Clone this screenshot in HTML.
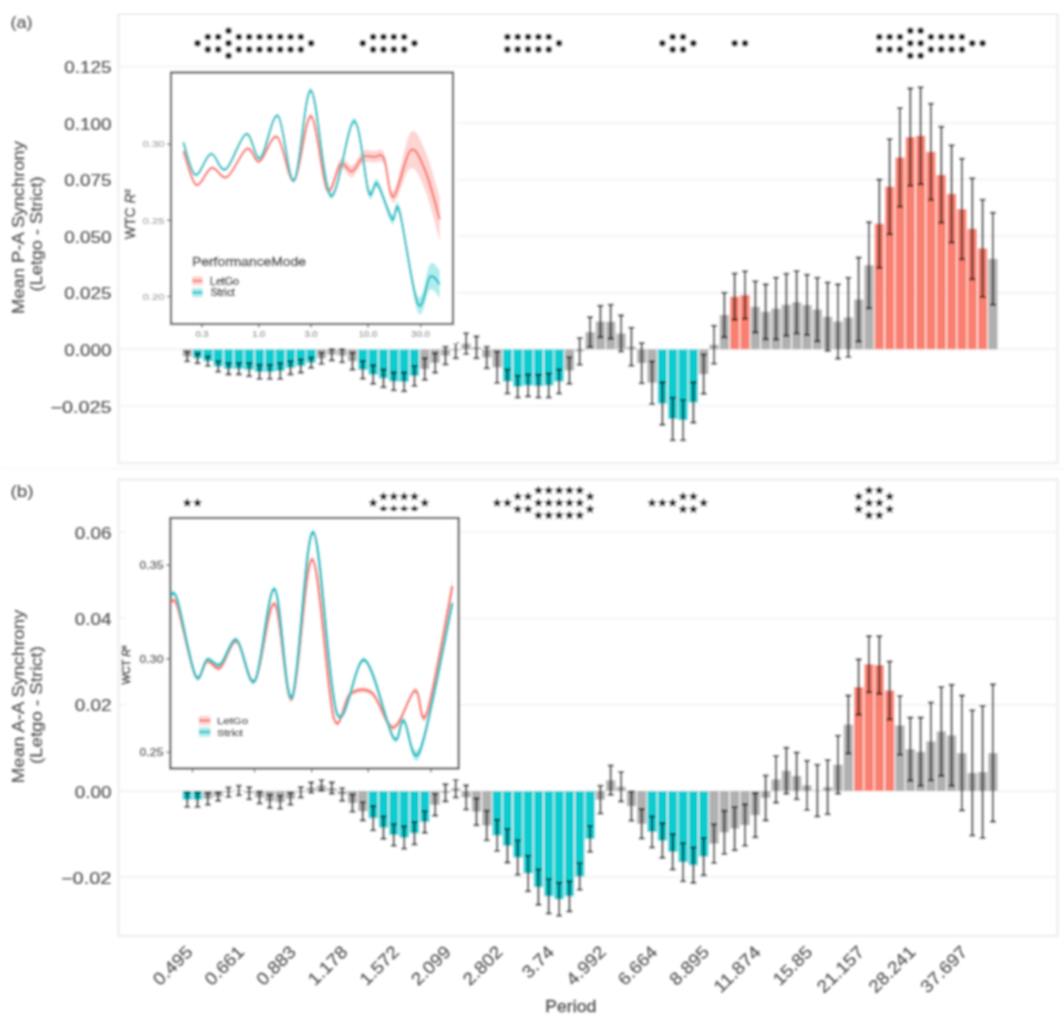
<!DOCTYPE html><html><head><meta charset="utf-8"><style>html,body{margin:0;padding:0;background:#fff;width:1064px;height:1032px;overflow:hidden}svg{display:block}</style></head><body><svg width="1064" height="1032" viewBox="0 0 1064 1032">
<defs><filter id="bl" x="0" y="0" width="1" height="1"><feGaussianBlur stdDeviation="0.9"/></filter></defs>
<rect width="1064" height="1032" fill="#fff"/>
<g filter="url(#bl)">
<text x="10.5" y="27.5" font-size="16" fill="#555" stroke="#555" stroke-width="0.15" font-family="Liberation Sans, sans-serif" textLength="22" lengthAdjust="spacingAndGlyphs">(a)</text>
<text x="10.5" y="496.5" font-size="16" fill="#555" stroke="#555" stroke-width="0.15" font-family="Liberation Sans, sans-serif" textLength="23" lengthAdjust="spacingAndGlyphs">(b)</text>
<line x1="0" x2="1064" y1="468.5" y2="468.5" stroke="#f6f6f6" stroke-width="1.5"/>
<rect x="118.5" y="13.6" width="939.0" height="449.4" fill="#fff" stroke="#efefef" stroke-width="2.5"/>
<line x1="120" x2="1056" y1="66.4" y2="66.4" stroke="#f0f0f0" stroke-width="1.4"/>
<text x="111.5" y="73.0" text-anchor="end" font-size="16.2" fill="#555" stroke="#555" stroke-width="0.2" font-family="Liberation Sans, sans-serif" textLength="47.2" lengthAdjust="spacingAndGlyphs">0.125</text>
<line x1="120" x2="1056" y1="123.0" y2="123.0" stroke="#f0f0f0" stroke-width="1.4"/>
<text x="111.5" y="129.6" text-anchor="end" font-size="16.2" fill="#555" stroke="#555" stroke-width="0.2" font-family="Liberation Sans, sans-serif" textLength="47.2" lengthAdjust="spacingAndGlyphs">0.100</text>
<line x1="120" x2="1056" y1="179.6" y2="179.6" stroke="#f0f0f0" stroke-width="1.4"/>
<text x="111.5" y="186.2" text-anchor="end" font-size="16.2" fill="#555" stroke="#555" stroke-width="0.2" font-family="Liberation Sans, sans-serif" textLength="47.2" lengthAdjust="spacingAndGlyphs">0.075</text>
<line x1="120" x2="1056" y1="236.2" y2="236.2" stroke="#f0f0f0" stroke-width="1.4"/>
<text x="111.5" y="242.8" text-anchor="end" font-size="16.2" fill="#555" stroke="#555" stroke-width="0.2" font-family="Liberation Sans, sans-serif" textLength="47.2" lengthAdjust="spacingAndGlyphs">0.050</text>
<line x1="120" x2="1056" y1="292.7" y2="292.7" stroke="#f0f0f0" stroke-width="1.4"/>
<text x="111.5" y="299.3" text-anchor="end" font-size="16.2" fill="#555" stroke="#555" stroke-width="0.2" font-family="Liberation Sans, sans-serif" textLength="47.2" lengthAdjust="spacingAndGlyphs">0.025</text>
<line x1="120" x2="1056" y1="349.3" y2="349.3" stroke="#f0f0f0" stroke-width="1.4"/>
<text x="111.5" y="355.9" text-anchor="end" font-size="16.2" fill="#555" stroke="#555" stroke-width="0.2" font-family="Liberation Sans, sans-serif" textLength="47.2" lengthAdjust="spacingAndGlyphs">0.000</text>
<line x1="120" x2="1056" y1="405.9" y2="405.9" stroke="#f0f0f0" stroke-width="1.4"/>
<text x="111.5" y="412.5" text-anchor="end" font-size="16.2" fill="#555" stroke="#555" stroke-width="0.2" font-family="Liberation Sans, sans-serif" textLength="61.1" lengthAdjust="spacingAndGlyphs">−0.025</text>
<rect x="182.60" y="349.30" width="9.2" height="7.24" fill="#b0b0b0"/>
<rect x="192.93" y="349.30" width="9.2" height="9.05" fill="#0BCCD0"/>
<rect x="203.26" y="349.30" width="9.2" height="11.99" fill="#0BCCD0"/>
<rect x="213.59" y="349.30" width="9.2" height="17.20" fill="#0BCCD0"/>
<rect x="223.92" y="349.30" width="9.2" height="19.46" fill="#0BCCD0"/>
<rect x="234.25" y="349.30" width="9.2" height="19.46" fill="#0BCCD0"/>
<rect x="244.58" y="349.30" width="9.2" height="20.37" fill="#0BCCD0"/>
<rect x="254.91" y="349.30" width="9.2" height="22.63" fill="#0BCCD0"/>
<rect x="265.24" y="349.30" width="9.2" height="22.63" fill="#0BCCD0"/>
<rect x="275.57" y="349.30" width="9.2" height="21.72" fill="#0BCCD0"/>
<rect x="285.90" y="349.30" width="9.2" height="18.56" fill="#0BCCD0"/>
<rect x="296.23" y="349.30" width="9.2" height="16.75" fill="#0BCCD0"/>
<rect x="306.56" y="349.30" width="9.2" height="13.35" fill="#0BCCD0"/>
<rect x="316.89" y="349.30" width="9.2" height="9.05" fill="#b0b0b0"/>
<rect x="327.22" y="349.30" width="9.2" height="5.43" fill="#b0b0b0"/>
<rect x="337.55" y="349.30" width="9.2" height="6.34" fill="#b0b0b0"/>
<rect x="347.88" y="349.30" width="9.2" height="11.99" fill="#b0b0b0"/>
<rect x="358.21" y="349.30" width="9.2" height="20.59" fill="#0BCCD0"/>
<rect x="368.54" y="349.30" width="9.2" height="25.35" fill="#0BCCD0"/>
<rect x="378.87" y="349.30" width="9.2" height="28.97" fill="#0BCCD0"/>
<rect x="389.20" y="349.30" width="9.2" height="32.13" fill="#0BCCD0"/>
<rect x="399.53" y="349.30" width="9.2" height="32.59" fill="#0BCCD0"/>
<rect x="409.86" y="349.30" width="9.2" height="26.70" fill="#0BCCD0"/>
<rect x="420.19" y="349.30" width="9.2" height="19.69" fill="#b0b0b0"/>
<rect x="430.52" y="349.30" width="9.2" height="13.58" fill="#b0b0b0"/>
<rect x="440.85" y="349.30" width="9.2" height="6.34" fill="#b0b0b0"/>
<rect x="451.18" y="349.30" width="9.2" height="1.13" fill="#b0b0b0"/>
<rect x="461.51" y="343.64" width="9.2" height="5.66" fill="#b0b0b0"/>
<rect x="471.84" y="347.26" width="9.2" height="2.04" fill="#b0b0b0"/>
<rect x="482.17" y="349.30" width="9.2" height="8.15" fill="#b0b0b0"/>
<rect x="492.50" y="349.30" width="9.2" height="18.10" fill="#b0b0b0"/>
<rect x="502.83" y="349.30" width="9.2" height="32.13" fill="#0BCCD0"/>
<rect x="513.16" y="349.30" width="9.2" height="37.34" fill="#0BCCD0"/>
<rect x="523.49" y="349.30" width="9.2" height="36.21" fill="#0BCCD0"/>
<rect x="533.82" y="349.30" width="9.2" height="36.89" fill="#0BCCD0"/>
<rect x="544.15" y="349.30" width="9.2" height="36.21" fill="#0BCCD0"/>
<rect x="554.48" y="349.30" width="9.2" height="32.13" fill="#0BCCD0"/>
<rect x="564.81" y="349.30" width="9.2" height="21.27" fill="#b0b0b0"/>
<rect x="575.14" y="349.30" width="9.2" height="2.04" fill="#b0b0b0"/>
<rect x="585.47" y="332.10" width="9.2" height="17.20" fill="#b0b0b0"/>
<rect x="595.80" y="321.47" width="9.2" height="27.83" fill="#b0b0b0"/>
<rect x="606.13" y="321.69" width="9.2" height="27.61" fill="#b0b0b0"/>
<rect x="616.46" y="333.46" width="9.2" height="15.84" fill="#b0b0b0"/>
<rect x="626.79" y="346.81" width="9.2" height="2.49" fill="#b0b0b0"/>
<rect x="637.12" y="349.30" width="9.2" height="13.80" fill="#b0b0b0"/>
<rect x="647.45" y="349.30" width="9.2" height="33.49" fill="#b0b0b0"/>
<rect x="657.78" y="349.30" width="9.2" height="54.31" fill="#0BCCD0"/>
<rect x="668.11" y="349.30" width="9.2" height="69.70" fill="#0BCCD0"/>
<rect x="678.44" y="349.30" width="9.2" height="70.83" fill="#0BCCD0"/>
<rect x="688.77" y="349.30" width="9.2" height="53.18" fill="#0BCCD0"/>
<rect x="699.10" y="349.30" width="9.2" height="24.89" fill="#b0b0b0"/>
<rect x="709.43" y="344.77" width="9.2" height="4.53" fill="#b0b0b0"/>
<rect x="719.76" y="314.90" width="9.2" height="34.40" fill="#b0b0b0"/>
<rect x="730.09" y="296.57" width="9.2" height="52.73" fill="#F98070"/>
<rect x="740.42" y="294.99" width="9.2" height="54.31" fill="#F98070"/>
<rect x="750.75" y="306.76" width="9.2" height="42.54" fill="#b0b0b0"/>
<rect x="761.08" y="311.73" width="9.2" height="37.57" fill="#b0b0b0"/>
<rect x="771.41" y="308.57" width="9.2" height="40.73" fill="#b0b0b0"/>
<rect x="781.74" y="304.72" width="9.2" height="44.58" fill="#b0b0b0"/>
<rect x="792.07" y="302.23" width="9.2" height="47.07" fill="#b0b0b0"/>
<rect x="802.40" y="304.95" width="9.2" height="44.35" fill="#b0b0b0"/>
<rect x="812.73" y="309.47" width="9.2" height="39.83" fill="#b0b0b0"/>
<rect x="823.06" y="316.71" width="9.2" height="32.59" fill="#b0b0b0"/>
<rect x="833.39" y="321.47" width="9.2" height="27.83" fill="#b0b0b0"/>
<rect x="843.72" y="317.39" width="9.2" height="31.91" fill="#b0b0b0"/>
<rect x="854.05" y="299.51" width="9.2" height="49.79" fill="#b0b0b0"/>
<rect x="864.38" y="265.12" width="9.2" height="84.18" fill="#b0b0b0"/>
<rect x="874.71" y="223.70" width="9.2" height="125.60" fill="#F98070"/>
<rect x="885.04" y="186.59" width="9.2" height="162.71" fill="#F98070"/>
<rect x="895.37" y="157.40" width="9.2" height="191.90" fill="#F98070"/>
<rect x="905.70" y="137.03" width="9.2" height="212.27" fill="#F98070"/>
<rect x="916.03" y="135.67" width="9.2" height="213.63" fill="#F98070"/>
<rect x="926.36" y="151.74" width="9.2" height="197.56" fill="#F98070"/>
<rect x="936.69" y="174.82" width="9.2" height="174.48" fill="#F98070"/>
<rect x="947.02" y="193.83" width="9.2" height="155.47" fill="#F98070"/>
<rect x="957.35" y="208.99" width="9.2" height="140.31" fill="#F98070"/>
<rect x="967.68" y="228.68" width="9.2" height="120.62" fill="#F98070"/>
<rect x="978.01" y="248.37" width="9.2" height="100.93" fill="#F98070"/>
<rect x="988.34" y="258.78" width="9.2" height="90.52" fill="#b0b0b0"/>
<path d="M184.30 351.79H190.10M187.20 351.79V361.29M184.30 361.29H190.10" stroke="rgba(0,0,0,0.7)" stroke-width="2.1" fill="none"/>
<path d="M194.63 353.60H200.43M197.53 353.60V363.10M194.63 363.10H200.43" stroke="rgba(0,0,0,0.7)" stroke-width="2.1" fill="none"/>
<path d="M204.96 356.54H210.76M207.86 356.54V366.05M204.96 366.05H210.76" stroke="rgba(0,0,0,0.7)" stroke-width="2.1" fill="none"/>
<path d="M215.29 361.29H221.09M218.19 361.29V371.70M215.29 371.70H221.09" stroke="rgba(0,0,0,0.7)" stroke-width="2.1" fill="none"/>
<path d="M225.62 363.10H231.42M228.52 363.10V374.42M225.62 374.42H231.42" stroke="rgba(0,0,0,0.7)" stroke-width="2.1" fill="none"/>
<path d="M235.95 363.10H241.75M238.85 363.10V374.42M235.95 374.42H241.75" stroke="rgba(0,0,0,0.7)" stroke-width="2.1" fill="none"/>
<path d="M246.28 363.10H252.08M249.18 363.10V376.23M246.28 376.23H252.08" stroke="rgba(0,0,0,0.7)" stroke-width="2.1" fill="none"/>
<path d="M256.61 364.91H262.41M259.51 364.91V378.95M256.61 378.95H262.41" stroke="rgba(0,0,0,0.7)" stroke-width="2.1" fill="none"/>
<path d="M266.94 364.91H272.74M269.84 364.91V378.95M266.94 378.95H272.74" stroke="rgba(0,0,0,0.7)" stroke-width="2.1" fill="none"/>
<path d="M277.27 363.10H283.07M280.17 363.10V378.95M277.27 378.95H283.07" stroke="rgba(0,0,0,0.7)" stroke-width="2.1" fill="none"/>
<path d="M287.60 361.29H293.40M290.50 361.29V374.42M287.60 374.42H293.40" stroke="rgba(0,0,0,0.7)" stroke-width="2.1" fill="none"/>
<path d="M297.93 359.48H303.73M300.83 359.48V372.61M297.93 372.61H303.73" stroke="rgba(0,0,0,0.7)" stroke-width="2.1" fill="none"/>
<path d="M308.26 357.45H314.06M311.16 357.45V367.86M308.26 367.86H314.06" stroke="rgba(0,0,0,0.7)" stroke-width="2.1" fill="none"/>
<path d="M318.59 352.69H324.39M321.49 352.69V364.01M318.59 364.01H324.39" stroke="rgba(0,0,0,0.7)" stroke-width="2.1" fill="none"/>
<path d="M328.92 349.07H334.72M331.82 349.07V360.39M328.92 360.39H334.72" stroke="rgba(0,0,0,0.7)" stroke-width="2.1" fill="none"/>
<path d="M339.25 349.07H345.05M342.15 349.07V362.20M339.25 362.20H345.05" stroke="rgba(0,0,0,0.7)" stroke-width="2.1" fill="none"/>
<path d="M349.58 352.92H355.38M352.48 352.92V369.67M349.58 369.67H355.38" stroke="rgba(0,0,0,0.7)" stroke-width="2.1" fill="none"/>
<path d="M359.91 361.07H365.71M362.81 361.07V378.72M359.91 378.72H365.71" stroke="rgba(0,0,0,0.7)" stroke-width="2.1" fill="none"/>
<path d="M370.24 365.37H376.04M373.14 365.37V383.92M370.24 383.92H376.04" stroke="rgba(0,0,0,0.7)" stroke-width="2.1" fill="none"/>
<path d="M380.57 369.44H386.37M383.47 369.44V387.09M380.57 387.09H386.37" stroke="rgba(0,0,0,0.7)" stroke-width="2.1" fill="none"/>
<path d="M390.90 372.61H396.70M393.80 372.61V390.26M390.90 390.26H396.70" stroke="rgba(0,0,0,0.7)" stroke-width="2.1" fill="none"/>
<path d="M401.23 372.61H407.03M404.13 372.61V391.17M401.23 391.17H407.03" stroke="rgba(0,0,0,0.7)" stroke-width="2.1" fill="none"/>
<path d="M411.56 366.05H417.36M414.46 366.05V385.96M411.56 385.96H417.36" stroke="rgba(0,0,0,0.7)" stroke-width="2.1" fill="none"/>
<path d="M421.89 358.13H427.69M424.79 358.13V379.85M421.89 379.85H427.69" stroke="rgba(0,0,0,0.7)" stroke-width="2.1" fill="none"/>
<path d="M432.22 353.15H438.02M435.12 353.15V372.61M432.22 372.61H438.02" stroke="rgba(0,0,0,0.7)" stroke-width="2.1" fill="none"/>
<path d="M442.55 346.81H448.35M445.45 346.81V364.46M442.55 364.46H448.35" stroke="rgba(0,0,0,0.7)" stroke-width="2.1" fill="none"/>
<path d="M452.88 342.74H458.68M455.78 342.74V358.13M452.88 358.13H458.68" stroke="rgba(0,0,0,0.7)" stroke-width="2.1" fill="none"/>
<path d="M463.21 333.23H469.01M466.11 333.23V354.05M463.21 354.05H469.01" stroke="rgba(0,0,0,0.7)" stroke-width="2.1" fill="none"/>
<path d="M473.54 336.40H479.34M476.44 336.40V358.13M473.54 358.13H479.34" stroke="rgba(0,0,0,0.7)" stroke-width="2.1" fill="none"/>
<path d="M483.87 346.81H489.67M486.77 346.81V368.08M483.87 368.08H489.67" stroke="rgba(0,0,0,0.7)" stroke-width="2.1" fill="none"/>
<path d="M494.20 351.79H500.00M497.10 351.79V383.02M494.20 383.02H500.00" stroke="rgba(0,0,0,0.7)" stroke-width="2.1" fill="none"/>
<path d="M504.53 369.44H510.33M507.43 369.44V393.43M504.53 393.43H510.33" stroke="rgba(0,0,0,0.7)" stroke-width="2.1" fill="none"/>
<path d="M514.86 375.78H520.66M517.76 375.78V397.50M514.86 397.50H520.66" stroke="rgba(0,0,0,0.7)" stroke-width="2.1" fill="none"/>
<path d="M525.19 374.65H530.99M528.09 374.65V396.37M525.19 396.37H530.99" stroke="rgba(0,0,0,0.7)" stroke-width="2.1" fill="none"/>
<path d="M535.52 374.87H541.32M538.42 374.87V397.50M535.52 397.50H541.32" stroke="rgba(0,0,0,0.7)" stroke-width="2.1" fill="none"/>
<path d="M545.85 373.51H551.65M548.75 373.51V397.50M545.85 397.50H551.65" stroke="rgba(0,0,0,0.7)" stroke-width="2.1" fill="none"/>
<path d="M556.18 369.44H561.98M559.08 369.44V393.43M556.18 393.43H561.98" stroke="rgba(0,0,0,0.7)" stroke-width="2.1" fill="none"/>
<path d="M566.51 357.22H572.31M569.41 357.22V383.92M566.51 383.92H572.31" stroke="rgba(0,0,0,0.7)" stroke-width="2.1" fill="none"/>
<path d="M576.84 337.99H582.64M579.74 337.99V364.69M576.84 364.69H582.64" stroke="rgba(0,0,0,0.7)" stroke-width="2.1" fill="none"/>
<path d="M587.17 317.17H592.97M590.07 317.17V347.04M587.17 347.04H592.97" stroke="rgba(0,0,0,0.7)" stroke-width="2.1" fill="none"/>
<path d="M597.50 305.85H603.30M600.40 305.85V337.08M597.50 337.08H603.30" stroke="rgba(0,0,0,0.7)" stroke-width="2.1" fill="none"/>
<path d="M607.83 304.72H613.63M610.73 304.72V338.66M607.83 338.66H613.63" stroke="rgba(0,0,0,0.7)" stroke-width="2.1" fill="none"/>
<path d="M618.16 315.36H623.96M621.06 315.36V351.56M618.16 351.56H623.96" stroke="rgba(0,0,0,0.7)" stroke-width="2.1" fill="none"/>
<path d="M628.49 327.80H634.29M631.39 327.80V365.82M628.49 365.82H634.29" stroke="rgba(0,0,0,0.7)" stroke-width="2.1" fill="none"/>
<path d="M638.82 342.96H644.62M641.72 342.96V383.25M638.82 383.25H644.62" stroke="rgba(0,0,0,0.7)" stroke-width="2.1" fill="none"/>
<path d="M649.15 361.52H654.95M652.05 361.52V404.06M649.15 404.06H654.95" stroke="rgba(0,0,0,0.7)" stroke-width="2.1" fill="none"/>
<path d="M659.48 382.34H665.28M662.38 382.34V424.88M659.48 424.88H665.28" stroke="rgba(0,0,0,0.7)" stroke-width="2.1" fill="none"/>
<path d="M669.81 397.73H675.61M672.71 397.73V440.27M669.81 440.27H675.61" stroke="rgba(0,0,0,0.7)" stroke-width="2.1" fill="none"/>
<path d="M680.14 399.99H685.94M683.04 399.99V440.27M680.14 440.27H685.94" stroke="rgba(0,0,0,0.7)" stroke-width="2.1" fill="none"/>
<path d="M690.47 382.34H696.27M693.37 382.34V422.62M690.47 422.62H696.27" stroke="rgba(0,0,0,0.7)" stroke-width="2.1" fill="none"/>
<path d="M700.80 354.50H706.60M703.70 354.50V393.88M700.80 393.88H706.60" stroke="rgba(0,0,0,0.7)" stroke-width="2.1" fill="none"/>
<path d="M711.13 325.76H716.93M714.03 325.76V363.78M711.13 363.78H716.93" stroke="rgba(0,0,0,0.7)" stroke-width="2.1" fill="none"/>
<path d="M721.46 292.73H727.26M724.36 292.73V337.08M721.46 337.08H727.26" stroke="rgba(0,0,0,0.7)" stroke-width="2.1" fill="none"/>
<path d="M731.79 273.49H737.59M734.69 273.49V319.65M731.79 319.65H737.59" stroke="rgba(0,0,0,0.7)" stroke-width="2.1" fill="none"/>
<path d="M742.12 271.23H747.92M745.02 271.23V318.75M742.12 318.75H747.92" stroke="rgba(0,0,0,0.7)" stroke-width="2.1" fill="none"/>
<path d="M752.45 281.18H758.25M755.35 281.18V332.33M752.45 332.33H758.25" stroke="rgba(0,0,0,0.7)" stroke-width="2.1" fill="none"/>
<path d="M762.78 284.35H768.58M765.68 284.35V339.12M762.78 339.12H768.58" stroke="rgba(0,0,0,0.7)" stroke-width="2.1" fill="none"/>
<path d="M773.11 277.79H778.91M776.01 277.79V339.34M773.11 339.34H778.91" stroke="rgba(0,0,0,0.7)" stroke-width="2.1" fill="none"/>
<path d="M783.44 273.72H789.24M786.34 273.72V335.72M783.44 335.72H789.24" stroke="rgba(0,0,0,0.7)" stroke-width="2.1" fill="none"/>
<path d="M793.77 271.00H799.57M796.67 271.00V333.46M793.77 333.46H799.57" stroke="rgba(0,0,0,0.7)" stroke-width="2.1" fill="none"/>
<path d="M804.10 274.85H809.90M807.00 274.85V335.04M804.10 335.04H809.90" stroke="rgba(0,0,0,0.7)" stroke-width="2.1" fill="none"/>
<path d="M814.43 277.79H820.23M817.33 277.79V341.15M814.43 341.15H820.23" stroke="rgba(0,0,0,0.7)" stroke-width="2.1" fill="none"/>
<path d="M824.76 282.54H830.56M827.66 282.54V350.88M824.76 350.88H830.56" stroke="rgba(0,0,0,0.7)" stroke-width="2.1" fill="none"/>
<path d="M835.09 284.35H840.89M837.99 284.35V358.58M835.09 358.58H840.89" stroke="rgba(0,0,0,0.7)" stroke-width="2.1" fill="none"/>
<path d="M845.42 277.79H851.22M848.32 277.79V356.99M845.42 356.99H851.22" stroke="rgba(0,0,0,0.7)" stroke-width="2.1" fill="none"/>
<path d="M855.75 257.65H861.55M858.65 257.65V341.38M855.75 341.38H861.55" stroke="rgba(0,0,0,0.7)" stroke-width="2.1" fill="none"/>
<path d="M866.08 222.12H871.88M868.98 222.12V308.11M866.08 308.11H871.88" stroke="rgba(0,0,0,0.7)" stroke-width="2.1" fill="none"/>
<path d="M876.41 179.58H882.21M879.31 179.58V267.83M876.41 267.83H882.21" stroke="rgba(0,0,0,0.7)" stroke-width="2.1" fill="none"/>
<path d="M886.74 139.07H892.54M889.64 139.07V234.11M886.74 234.11H892.54" stroke="rgba(0,0,0,0.7)" stroke-width="2.1" fill="none"/>
<path d="M897.07 108.06H902.87M899.97 108.06V206.73M897.07 206.73H902.87" stroke="rgba(0,0,0,0.7)" stroke-width="2.1" fill="none"/>
<path d="M907.40 88.38H913.20M910.30 88.38V185.69M907.40 185.69H913.20" stroke="rgba(0,0,0,0.7)" stroke-width="2.1" fill="none"/>
<path d="M917.73 87.24H923.53M920.63 87.24V184.10M917.73 184.10H923.53" stroke="rgba(0,0,0,0.7)" stroke-width="2.1" fill="none"/>
<path d="M928.06 103.76H933.86M930.96 103.76V199.72M928.06 199.72H933.86" stroke="rgba(0,0,0,0.7)" stroke-width="2.1" fill="none"/>
<path d="M938.39 126.85H944.19M941.29 126.85V222.80M938.39 222.80H944.19" stroke="rgba(0,0,0,0.7)" stroke-width="2.1" fill="none"/>
<path d="M948.72 145.18H954.52M951.62 145.18V242.49M948.72 242.49H954.52" stroke="rgba(0,0,0,0.7)" stroke-width="2.1" fill="none"/>
<path d="M959.05 158.76H964.85M961.95 158.76V259.23M959.05 259.23H964.85" stroke="rgba(0,0,0,0.7)" stroke-width="2.1" fill="none"/>
<path d="M969.38 178.22H975.18M972.28 178.22V279.15M969.38 279.15H975.18" stroke="rgba(0,0,0,0.7)" stroke-width="2.1" fill="none"/>
<path d="M979.71 199.72H985.51M982.61 199.72V297.02M979.71 297.02H985.51" stroke="rgba(0,0,0,0.7)" stroke-width="2.1" fill="none"/>
<path d="M990.04 212.84H995.84M992.94 212.84V304.72M990.04 304.72H995.84" stroke="rgba(0,0,0,0.7)" stroke-width="2.1" fill="none"/>
<circle cx="197.53" cy="43.20" r="3.2" fill="#262626"/>
<circle cx="207.86" cy="36.85" r="3.2" fill="#262626"/>
<circle cx="207.86" cy="49.55" r="3.2" fill="#262626"/>
<circle cx="218.19" cy="36.85" r="3.2" fill="#262626"/>
<circle cx="218.19" cy="49.55" r="3.2" fill="#262626"/>
<circle cx="228.52" cy="30.75" r="3.2" fill="#262626"/>
<circle cx="228.52" cy="43.20" r="3.2" fill="#262626"/>
<circle cx="228.52" cy="55.65" r="3.2" fill="#262626"/>
<circle cx="238.85" cy="36.85" r="3.2" fill="#262626"/>
<circle cx="238.85" cy="49.55" r="3.2" fill="#262626"/>
<circle cx="249.18" cy="36.85" r="3.2" fill="#262626"/>
<circle cx="249.18" cy="49.55" r="3.2" fill="#262626"/>
<circle cx="259.51" cy="36.85" r="3.2" fill="#262626"/>
<circle cx="259.51" cy="49.55" r="3.2" fill="#262626"/>
<circle cx="269.84" cy="36.85" r="3.2" fill="#262626"/>
<circle cx="269.84" cy="49.55" r="3.2" fill="#262626"/>
<circle cx="280.17" cy="36.85" r="3.2" fill="#262626"/>
<circle cx="280.17" cy="49.55" r="3.2" fill="#262626"/>
<circle cx="290.50" cy="36.85" r="3.2" fill="#262626"/>
<circle cx="290.50" cy="49.55" r="3.2" fill="#262626"/>
<circle cx="300.83" cy="36.85" r="3.2" fill="#262626"/>
<circle cx="300.83" cy="49.55" r="3.2" fill="#262626"/>
<circle cx="311.16" cy="43.20" r="3.2" fill="#262626"/>
<circle cx="362.81" cy="43.20" r="3.2" fill="#262626"/>
<circle cx="373.14" cy="36.85" r="3.2" fill="#262626"/>
<circle cx="373.14" cy="49.55" r="3.2" fill="#262626"/>
<circle cx="383.47" cy="36.85" r="3.2" fill="#262626"/>
<circle cx="383.47" cy="49.55" r="3.2" fill="#262626"/>
<circle cx="393.80" cy="36.85" r="3.2" fill="#262626"/>
<circle cx="393.80" cy="49.55" r="3.2" fill="#262626"/>
<circle cx="404.13" cy="36.85" r="3.2" fill="#262626"/>
<circle cx="404.13" cy="49.55" r="3.2" fill="#262626"/>
<circle cx="414.46" cy="43.20" r="3.2" fill="#262626"/>
<circle cx="507.43" cy="36.85" r="3.2" fill="#262626"/>
<circle cx="507.43" cy="49.55" r="3.2" fill="#262626"/>
<circle cx="517.76" cy="36.85" r="3.2" fill="#262626"/>
<circle cx="517.76" cy="49.55" r="3.2" fill="#262626"/>
<circle cx="528.09" cy="36.85" r="3.2" fill="#262626"/>
<circle cx="528.09" cy="49.55" r="3.2" fill="#262626"/>
<circle cx="538.42" cy="36.85" r="3.2" fill="#262626"/>
<circle cx="538.42" cy="49.55" r="3.2" fill="#262626"/>
<circle cx="548.75" cy="36.85" r="3.2" fill="#262626"/>
<circle cx="548.75" cy="49.55" r="3.2" fill="#262626"/>
<circle cx="559.08" cy="43.20" r="3.2" fill="#262626"/>
<circle cx="662.38" cy="43.20" r="3.2" fill="#262626"/>
<circle cx="672.71" cy="36.85" r="3.2" fill="#262626"/>
<circle cx="672.71" cy="49.55" r="3.2" fill="#262626"/>
<circle cx="683.04" cy="36.85" r="3.2" fill="#262626"/>
<circle cx="683.04" cy="49.55" r="3.2" fill="#262626"/>
<circle cx="693.37" cy="43.20" r="3.2" fill="#262626"/>
<circle cx="734.69" cy="43.20" r="3.2" fill="#262626"/>
<circle cx="745.02" cy="43.20" r="3.2" fill="#262626"/>
<circle cx="879.31" cy="36.85" r="3.2" fill="#262626"/>
<circle cx="879.31" cy="49.55" r="3.2" fill="#262626"/>
<circle cx="889.64" cy="36.85" r="3.2" fill="#262626"/>
<circle cx="889.64" cy="49.55" r="3.2" fill="#262626"/>
<circle cx="899.97" cy="36.85" r="3.2" fill="#262626"/>
<circle cx="899.97" cy="49.55" r="3.2" fill="#262626"/>
<circle cx="930.96" cy="36.85" r="3.2" fill="#262626"/>
<circle cx="930.96" cy="49.55" r="3.2" fill="#262626"/>
<circle cx="941.29" cy="36.85" r="3.2" fill="#262626"/>
<circle cx="941.29" cy="49.55" r="3.2" fill="#262626"/>
<circle cx="951.62" cy="36.85" r="3.2" fill="#262626"/>
<circle cx="951.62" cy="49.55" r="3.2" fill="#262626"/>
<circle cx="961.95" cy="36.85" r="3.2" fill="#262626"/>
<circle cx="961.95" cy="49.55" r="3.2" fill="#262626"/>
<circle cx="910.30" cy="30.75" r="3.2" fill="#262626"/>
<circle cx="910.30" cy="43.20" r="3.2" fill="#262626"/>
<circle cx="910.30" cy="55.65" r="3.2" fill="#262626"/>
<circle cx="920.63" cy="30.75" r="3.2" fill="#262626"/>
<circle cx="920.63" cy="43.20" r="3.2" fill="#262626"/>
<circle cx="920.63" cy="55.65" r="3.2" fill="#262626"/>
<circle cx="972.28" cy="43.20" r="3.2" fill="#262626"/>
<circle cx="982.61" cy="43.20" r="3.2" fill="#262626"/>
<rect x="118.5" y="479.5" width="939.0" height="456.5" fill="#fff" stroke="#efefef" stroke-width="2.5"/>
<line x1="120" x2="1056" y1="532.1" y2="532.1" stroke="#f0f0f0" stroke-width="1.4"/>
<text x="111.5" y="538.7" text-anchor="end" font-size="16.2" fill="#555" stroke="#555" stroke-width="0.2" font-family="Liberation Sans, sans-serif" textLength="36.7" lengthAdjust="spacingAndGlyphs">0.06</text>
<line x1="120" x2="1056" y1="618.4" y2="618.4" stroke="#f0f0f0" stroke-width="1.4"/>
<text x="111.5" y="625.0" text-anchor="end" font-size="16.2" fill="#555" stroke="#555" stroke-width="0.2" font-family="Liberation Sans, sans-serif" textLength="36.7" lengthAdjust="spacingAndGlyphs">0.04</text>
<line x1="120" x2="1056" y1="704.7" y2="704.7" stroke="#f0f0f0" stroke-width="1.4"/>
<text x="111.5" y="711.3" text-anchor="end" font-size="16.2" fill="#555" stroke="#555" stroke-width="0.2" font-family="Liberation Sans, sans-serif" textLength="36.7" lengthAdjust="spacingAndGlyphs">0.02</text>
<line x1="120" x2="1056" y1="791.0" y2="791.0" stroke="#f0f0f0" stroke-width="1.4"/>
<text x="111.5" y="797.6" text-anchor="end" font-size="16.2" fill="#555" stroke="#555" stroke-width="0.2" font-family="Liberation Sans, sans-serif" textLength="36.7" lengthAdjust="spacingAndGlyphs">0.00</text>
<line x1="120" x2="1056" y1="877.3" y2="877.3" stroke="#f0f0f0" stroke-width="1.4"/>
<text x="111.5" y="883.9" text-anchor="end" font-size="16.2" fill="#555" stroke="#555" stroke-width="0.2" font-family="Liberation Sans, sans-serif" textLength="50.6" lengthAdjust="spacingAndGlyphs">−0.02</text>
<rect x="182.60" y="791.00" width="9.2" height="8.63" fill="#0BCCD0"/>
<rect x="192.93" y="791.00" width="9.2" height="8.63" fill="#0BCCD0"/>
<rect x="203.26" y="791.00" width="9.2" height="7.77" fill="#b0b0b0"/>
<rect x="213.59" y="791.00" width="9.2" height="5.61" fill="#b0b0b0"/>
<rect x="223.92" y="791.00" width="9.2" height="1.29" fill="#b0b0b0"/>
<rect x="234.25" y="790.57" width="9.2" height="0.43" fill="#b0b0b0"/>
<rect x="244.58" y="791.00" width="9.2" height="2.16" fill="#b0b0b0"/>
<rect x="254.91" y="791.00" width="9.2" height="6.47" fill="#b0b0b0"/>
<rect x="265.24" y="791.00" width="9.2" height="10.36" fill="#b0b0b0"/>
<rect x="275.57" y="791.00" width="9.2" height="11.22" fill="#b0b0b0"/>
<rect x="285.90" y="791.00" width="9.2" height="7.77" fill="#b0b0b0"/>
<rect x="296.23" y="791.00" width="9.2" height="1.29" fill="#b0b0b0"/>
<rect x="306.56" y="787.55" width="9.2" height="3.45" fill="#b0b0b0"/>
<rect x="316.89" y="785.39" width="9.2" height="5.61" fill="#b0b0b0"/>
<rect x="327.22" y="787.98" width="9.2" height="3.02" fill="#b0b0b0"/>
<rect x="337.55" y="791.00" width="9.2" height="3.45" fill="#b0b0b0"/>
<rect x="347.88" y="791.00" width="9.2" height="12.08" fill="#b0b0b0"/>
<rect x="358.21" y="791.00" width="9.2" height="20.28" fill="#b0b0b0"/>
<rect x="368.54" y="791.00" width="9.2" height="27.18" fill="#0BCCD0"/>
<rect x="378.87" y="791.00" width="9.2" height="36.68" fill="#0BCCD0"/>
<rect x="389.20" y="791.00" width="9.2" height="44.01" fill="#0BCCD0"/>
<rect x="399.53" y="791.00" width="9.2" height="46.60" fill="#0BCCD0"/>
<rect x="409.86" y="791.00" width="9.2" height="42.29" fill="#0BCCD0"/>
<rect x="420.19" y="791.00" width="9.2" height="31.07" fill="#0BCCD0"/>
<rect x="430.52" y="791.00" width="9.2" height="13.81" fill="#b0b0b0"/>
<rect x="440.85" y="791.00" width="9.2" height="1.73" fill="#b0b0b0"/>
<rect x="451.18" y="788.41" width="9.2" height="2.59" fill="#b0b0b0"/>
<rect x="461.51" y="791.00" width="9.2" height="6.47" fill="#b0b0b0"/>
<rect x="471.84" y="791.00" width="9.2" height="20.71" fill="#b0b0b0"/>
<rect x="482.17" y="791.00" width="9.2" height="34.52" fill="#b0b0b0"/>
<rect x="492.50" y="791.00" width="9.2" height="44.44" fill="#0BCCD0"/>
<rect x="502.83" y="791.00" width="9.2" height="54.80" fill="#0BCCD0"/>
<rect x="513.16" y="791.00" width="9.2" height="66.45" fill="#0BCCD0"/>
<rect x="523.49" y="791.00" width="9.2" height="82.42" fill="#0BCCD0"/>
<rect x="533.82" y="791.00" width="9.2" height="96.22" fill="#0BCCD0"/>
<rect x="544.15" y="791.00" width="9.2" height="105.29" fill="#0BCCD0"/>
<rect x="554.48" y="791.00" width="9.2" height="108.31" fill="#0BCCD0"/>
<rect x="564.81" y="791.00" width="9.2" height="105.29" fill="#0BCCD0"/>
<rect x="575.14" y="791.00" width="9.2" height="85.44" fill="#0BCCD0"/>
<rect x="585.47" y="791.00" width="9.2" height="47.90" fill="#0BCCD0"/>
<rect x="595.80" y="791.00" width="9.2" height="8.63" fill="#b0b0b0"/>
<rect x="606.13" y="780.21" width="9.2" height="10.79" fill="#b0b0b0"/>
<rect x="616.46" y="786.68" width="9.2" height="4.32" fill="#b0b0b0"/>
<rect x="626.79" y="791.00" width="9.2" height="15.10" fill="#b0b0b0"/>
<rect x="637.12" y="791.00" width="9.2" height="32.79" fill="#b0b0b0"/>
<rect x="647.45" y="791.00" width="9.2" height="40.99" fill="#0BCCD0"/>
<rect x="657.78" y="791.00" width="9.2" height="49.62" fill="#0BCCD0"/>
<rect x="668.11" y="791.00" width="9.2" height="60.84" fill="#0BCCD0"/>
<rect x="678.44" y="791.00" width="9.2" height="71.20" fill="#0BCCD0"/>
<rect x="688.77" y="791.00" width="9.2" height="74.22" fill="#0BCCD0"/>
<rect x="699.10" y="791.00" width="9.2" height="65.59" fill="#0BCCD0"/>
<rect x="709.43" y="791.00" width="9.2" height="52.64" fill="#b0b0b0"/>
<rect x="719.76" y="791.00" width="9.2" height="41.42" fill="#b0b0b0"/>
<rect x="730.09" y="791.00" width="9.2" height="37.54" fill="#b0b0b0"/>
<rect x="740.42" y="791.00" width="9.2" height="34.09" fill="#b0b0b0"/>
<rect x="750.75" y="791.00" width="9.2" height="24.16" fill="#b0b0b0"/>
<rect x="761.08" y="791.00" width="9.2" height="6.90" fill="#b0b0b0"/>
<rect x="771.41" y="779.35" width="9.2" height="11.65" fill="#b0b0b0"/>
<rect x="781.74" y="770.72" width="9.2" height="20.28" fill="#b0b0b0"/>
<rect x="792.07" y="775.90" width="9.2" height="15.10" fill="#b0b0b0"/>
<rect x="802.40" y="785.39" width="9.2" height="5.61" fill="#b0b0b0"/>
<rect x="812.73" y="790.57" width="9.2" height="0.43" fill="#b0b0b0"/>
<rect x="823.06" y="787.12" width="9.2" height="3.88" fill="#b0b0b0"/>
<rect x="833.39" y="764.68" width="9.2" height="26.32" fill="#b0b0b0"/>
<rect x="843.72" y="724.55" width="9.2" height="66.45" fill="#b0b0b0"/>
<rect x="854.05" y="687.01" width="9.2" height="103.99" fill="#F98070"/>
<rect x="864.38" y="664.14" width="9.2" height="126.86" fill="#F98070"/>
<rect x="874.71" y="665.00" width="9.2" height="126.00" fill="#F98070"/>
<rect x="885.04" y="690.46" width="9.2" height="100.54" fill="#F98070"/>
<rect x="895.37" y="725.41" width="9.2" height="65.59" fill="#b0b0b0"/>
<rect x="905.70" y="749.14" width="9.2" height="41.86" fill="#b0b0b0"/>
<rect x="916.03" y="751.73" width="9.2" height="39.27" fill="#b0b0b0"/>
<rect x="926.36" y="741.38" width="9.2" height="49.62" fill="#b0b0b0"/>
<rect x="936.69" y="731.45" width="9.2" height="59.55" fill="#b0b0b0"/>
<rect x="947.02" y="735.34" width="9.2" height="55.66" fill="#b0b0b0"/>
<rect x="957.35" y="753.03" width="9.2" height="37.97" fill="#b0b0b0"/>
<rect x="967.68" y="772.88" width="9.2" height="18.12" fill="#b0b0b0"/>
<rect x="978.01" y="772.01" width="9.2" height="18.99" fill="#b0b0b0"/>
<rect x="988.34" y="753.03" width="9.2" height="37.97" fill="#b0b0b0"/>
<path d="M184.30 792.29H190.10M187.20 792.29V806.97M184.30 806.97H190.10" stroke="rgba(0,0,0,0.7)" stroke-width="2.1" fill="none"/>
<path d="M194.63 792.29H200.43M197.53 792.29V806.97M194.63 806.97H200.43" stroke="rgba(0,0,0,0.7)" stroke-width="2.1" fill="none"/>
<path d="M204.96 792.73H210.76M207.86 792.73V804.81M204.96 804.81H210.76" stroke="rgba(0,0,0,0.7)" stroke-width="2.1" fill="none"/>
<path d="M215.29 792.29H221.09M218.19 792.29V800.92M215.29 800.92H221.09" stroke="rgba(0,0,0,0.7)" stroke-width="2.1" fill="none"/>
<path d="M225.62 787.55H231.42M228.52 787.55V797.04M225.62 797.04H231.42" stroke="rgba(0,0,0,0.7)" stroke-width="2.1" fill="none"/>
<path d="M235.95 785.82H241.75M238.85 785.82V795.32M235.95 795.32H241.75" stroke="rgba(0,0,0,0.7)" stroke-width="2.1" fill="none"/>
<path d="M246.28 787.12H252.08M249.18 787.12V799.20M246.28 799.20H252.08" stroke="rgba(0,0,0,0.7)" stroke-width="2.1" fill="none"/>
<path d="M256.61 791.43H262.41M259.51 791.43V803.51M256.61 803.51H262.41" stroke="rgba(0,0,0,0.7)" stroke-width="2.1" fill="none"/>
<path d="M266.94 794.88H272.74M269.84 794.88V807.83M266.94 807.83H272.74" stroke="rgba(0,0,0,0.7)" stroke-width="2.1" fill="none"/>
<path d="M277.27 795.75H283.07M280.17 795.75V808.69M277.27 808.69H283.07" stroke="rgba(0,0,0,0.7)" stroke-width="2.1" fill="none"/>
<path d="M287.60 792.73H293.40M290.50 792.73V804.81M287.60 804.81H293.40" stroke="rgba(0,0,0,0.7)" stroke-width="2.1" fill="none"/>
<path d="M297.93 787.12H303.73M300.83 787.12V797.47M297.93 797.47H303.73" stroke="rgba(0,0,0,0.7)" stroke-width="2.1" fill="none"/>
<path d="M308.26 782.37H314.06M311.16 782.37V792.73M308.26 792.73H314.06" stroke="rgba(0,0,0,0.7)" stroke-width="2.1" fill="none"/>
<path d="M318.59 779.78H324.39M321.49 779.78V791.00M318.59 791.00H324.39" stroke="rgba(0,0,0,0.7)" stroke-width="2.1" fill="none"/>
<path d="M328.92 782.37H334.72M331.82 782.37V793.59M328.92 793.59H334.72" stroke="rgba(0,0,0,0.7)" stroke-width="2.1" fill="none"/>
<path d="M339.25 787.98H345.05M342.15 787.98V800.92M339.25 800.92H345.05" stroke="rgba(0,0,0,0.7)" stroke-width="2.1" fill="none"/>
<path d="M349.58 794.45H355.38M352.48 794.45V811.71M349.58 811.71H355.38" stroke="rgba(0,0,0,0.7)" stroke-width="2.1" fill="none"/>
<path d="M359.91 802.22H365.71M362.81 802.22V820.34M359.91 820.34H365.71" stroke="rgba(0,0,0,0.7)" stroke-width="2.1" fill="none"/>
<path d="M370.24 806.10H376.04M373.14 806.10V830.27M370.24 830.27H376.04" stroke="rgba(0,0,0,0.7)" stroke-width="2.1" fill="none"/>
<path d="M380.57 816.46H386.37M383.47 816.46V838.90M380.57 838.90H386.37" stroke="rgba(0,0,0,0.7)" stroke-width="2.1" fill="none"/>
<path d="M390.90 824.23H396.70M393.80 824.23V845.80M390.90 845.80H396.70" stroke="rgba(0,0,0,0.7)" stroke-width="2.1" fill="none"/>
<path d="M401.23 826.38H407.03M404.13 826.38V848.82M401.23 848.82H407.03" stroke="rgba(0,0,0,0.7)" stroke-width="2.1" fill="none"/>
<path d="M411.56 822.07H417.36M414.46 822.07V844.51M411.56 844.51H417.36" stroke="rgba(0,0,0,0.7)" stroke-width="2.1" fill="none"/>
<path d="M421.89 811.28H427.69M424.79 811.28V832.86M421.89 832.86H427.69" stroke="rgba(0,0,0,0.7)" stroke-width="2.1" fill="none"/>
<path d="M432.22 794.02H438.02M435.12 794.02V815.60M432.22 815.60H438.02" stroke="rgba(0,0,0,0.7)" stroke-width="2.1" fill="none"/>
<path d="M442.55 784.10H448.35M445.45 784.10V801.36M442.55 801.36H448.35" stroke="rgba(0,0,0,0.7)" stroke-width="2.1" fill="none"/>
<path d="M452.88 779.35H458.68M455.78 779.35V797.47M452.88 797.47H458.68" stroke="rgba(0,0,0,0.7)" stroke-width="2.1" fill="none"/>
<path d="M463.21 785.39H469.01M466.11 785.39V809.55M463.21 809.55H469.01" stroke="rgba(0,0,0,0.7)" stroke-width="2.1" fill="none"/>
<path d="M473.54 798.34H479.34M476.44 798.34V825.09M473.54 825.09H479.34" stroke="rgba(0,0,0,0.7)" stroke-width="2.1" fill="none"/>
<path d="M483.87 810.85H489.67M486.77 810.85V840.19M483.87 840.19H489.67" stroke="rgba(0,0,0,0.7)" stroke-width="2.1" fill="none"/>
<path d="M494.20 819.91H500.00M497.10 819.91V850.98M494.20 850.98H500.00" stroke="rgba(0,0,0,0.7)" stroke-width="2.1" fill="none"/>
<path d="M504.53 828.97H510.33M507.43 828.97V862.63M504.53 862.63H510.33" stroke="rgba(0,0,0,0.7)" stroke-width="2.1" fill="none"/>
<path d="M514.86 840.19H520.66M517.76 840.19V874.71M514.86 874.71H520.66" stroke="rgba(0,0,0,0.7)" stroke-width="2.1" fill="none"/>
<path d="M525.19 855.73H530.99M528.09 855.73V891.11M525.19 891.11H530.99" stroke="rgba(0,0,0,0.7)" stroke-width="2.1" fill="none"/>
<path d="M535.52 869.53H541.32M538.42 869.53V904.92M535.52 904.92H541.32" stroke="rgba(0,0,0,0.7)" stroke-width="2.1" fill="none"/>
<path d="M545.85 879.03H551.65M548.75 879.03V913.55M545.85 913.55H551.65" stroke="rgba(0,0,0,0.7)" stroke-width="2.1" fill="none"/>
<path d="M556.18 882.91H561.98M559.08 882.91V915.70M556.18 915.70H561.98" stroke="rgba(0,0,0,0.7)" stroke-width="2.1" fill="none"/>
<path d="M566.51 881.18H572.31M569.41 881.18V911.39M566.51 911.39H572.31" stroke="rgba(0,0,0,0.7)" stroke-width="2.1" fill="none"/>
<path d="M576.84 863.06H582.64M579.74 863.06V889.81M576.84 889.81H582.64" stroke="rgba(0,0,0,0.7)" stroke-width="2.1" fill="none"/>
<path d="M587.17 825.95H592.97M590.07 825.95V851.84M587.17 851.84H592.97" stroke="rgba(0,0,0,0.7)" stroke-width="2.1" fill="none"/>
<path d="M597.50 785.82H603.30M600.40 785.82V813.44M597.50 813.44H603.30" stroke="rgba(0,0,0,0.7)" stroke-width="2.1" fill="none"/>
<path d="M607.83 765.54H613.63M610.73 765.54V794.88M607.83 794.88H613.63" stroke="rgba(0,0,0,0.7)" stroke-width="2.1" fill="none"/>
<path d="M618.16 772.01H623.96M621.06 772.01V801.36M618.16 801.36H623.96" stroke="rgba(0,0,0,0.7)" stroke-width="2.1" fill="none"/>
<path d="M628.49 791.43H634.29M631.39 791.43V820.77M628.49 820.77H634.29" stroke="rgba(0,0,0,0.7)" stroke-width="2.1" fill="none"/>
<path d="M638.82 809.12H644.62M641.72 809.12V838.47M638.82 838.47H644.62" stroke="rgba(0,0,0,0.7)" stroke-width="2.1" fill="none"/>
<path d="M649.15 816.46H654.95M652.05 816.46V847.53M649.15 847.53H654.95" stroke="rgba(0,0,0,0.7)" stroke-width="2.1" fill="none"/>
<path d="M659.48 823.36H665.28M662.38 823.36V857.88M659.48 857.88H665.28" stroke="rgba(0,0,0,0.7)" stroke-width="2.1" fill="none"/>
<path d="M669.81 834.15H675.61M672.71 834.15V869.53M669.81 869.53H675.61" stroke="rgba(0,0,0,0.7)" stroke-width="2.1" fill="none"/>
<path d="M680.14 843.21H685.94M683.04 843.21V881.18M680.14 881.18H685.94" stroke="rgba(0,0,0,0.7)" stroke-width="2.1" fill="none"/>
<path d="M690.47 847.53H696.27M693.37 847.53V882.91M690.47 882.91H696.27" stroke="rgba(0,0,0,0.7)" stroke-width="2.1" fill="none"/>
<path d="M700.80 838.03H706.60M703.70 838.03V875.14M700.80 875.14H706.60" stroke="rgba(0,0,0,0.7)" stroke-width="2.1" fill="none"/>
<path d="M711.13 824.23H716.93M714.03 824.23V863.06M711.13 863.06H716.93" stroke="rgba(0,0,0,0.7)" stroke-width="2.1" fill="none"/>
<path d="M721.46 810.85H727.26M724.36 810.85V854.00M721.46 854.00H727.26" stroke="rgba(0,0,0,0.7)" stroke-width="2.1" fill="none"/>
<path d="M731.79 806.97H737.59M734.69 806.97V850.12M731.79 850.12H737.59" stroke="rgba(0,0,0,0.7)" stroke-width="2.1" fill="none"/>
<path d="M742.12 804.38H747.92M745.02 804.38V845.80M742.12 845.80H747.92" stroke="rgba(0,0,0,0.7)" stroke-width="2.1" fill="none"/>
<path d="M752.45 793.16H758.25M755.35 793.16V837.17M752.45 837.17H758.25" stroke="rgba(0,0,0,0.7)" stroke-width="2.1" fill="none"/>
<path d="M762.78 775.47H768.58M765.68 775.47V820.34M762.78 820.34H768.58" stroke="rgba(0,0,0,0.7)" stroke-width="2.1" fill="none"/>
<path d="M773.11 756.05H778.91M776.01 756.05V802.65M773.11 802.65H778.91" stroke="rgba(0,0,0,0.7)" stroke-width="2.1" fill="none"/>
<path d="M783.44 747.85H789.24M786.34 747.85V793.59M783.44 793.59H789.24" stroke="rgba(0,0,0,0.7)" stroke-width="2.1" fill="none"/>
<path d="M793.77 752.60H799.57M796.67 752.60V799.20M793.77 799.20H799.57" stroke="rgba(0,0,0,0.7)" stroke-width="2.1" fill="none"/>
<path d="M804.10 760.79H809.90M807.00 760.79V809.99M804.10 809.99H809.90" stroke="rgba(0,0,0,0.7)" stroke-width="2.1" fill="none"/>
<path d="M814.43 764.68H820.23M817.33 764.68V816.46M814.43 816.46H820.23" stroke="rgba(0,0,0,0.7)" stroke-width="2.1" fill="none"/>
<path d="M824.76 759.93H830.56M827.66 759.93V814.30M824.76 814.30H830.56" stroke="rgba(0,0,0,0.7)" stroke-width="2.1" fill="none"/>
<path d="M835.09 735.77H840.89M837.99 735.77V793.59M835.09 793.59H840.89" stroke="rgba(0,0,0,0.7)" stroke-width="2.1" fill="none"/>
<path d="M845.42 695.64H851.22M848.32 695.64V753.46M845.42 753.46H851.22" stroke="rgba(0,0,0,0.7)" stroke-width="2.1" fill="none"/>
<path d="M855.75 659.39H861.55M858.65 659.39V714.62M855.75 714.62H861.55" stroke="rgba(0,0,0,0.7)" stroke-width="2.1" fill="none"/>
<path d="M866.08 636.09H871.88M868.98 636.09V692.19M866.08 692.19H871.88" stroke="rgba(0,0,0,0.7)" stroke-width="2.1" fill="none"/>
<path d="M876.41 636.09H882.21M879.31 636.09V693.91M876.41 693.91H882.21" stroke="rgba(0,0,0,0.7)" stroke-width="2.1" fill="none"/>
<path d="M886.74 661.55H892.54M889.64 661.55V719.37M886.74 719.37H892.54" stroke="rgba(0,0,0,0.7)" stroke-width="2.1" fill="none"/>
<path d="M897.07 696.07H902.87M899.97 696.07V754.75M897.07 754.75H902.87" stroke="rgba(0,0,0,0.7)" stroke-width="2.1" fill="none"/>
<path d="M907.40 717.64H913.20M910.30 717.64V780.64M907.40 780.64H913.20" stroke="rgba(0,0,0,0.7)" stroke-width="2.1" fill="none"/>
<path d="M917.73 717.64H923.53M920.63 717.64V785.82M917.73 785.82H923.53" stroke="rgba(0,0,0,0.7)" stroke-width="2.1" fill="none"/>
<path d="M928.06 702.54H933.86M930.96 702.54V780.21M928.06 780.21H933.86" stroke="rgba(0,0,0,0.7)" stroke-width="2.1" fill="none"/>
<path d="M938.39 687.01H944.19M941.29 687.01V775.90M938.39 775.90H944.19" stroke="rgba(0,0,0,0.7)" stroke-width="2.1" fill="none"/>
<path d="M948.72 684.85H954.52M951.62 684.85V785.82M948.72 785.82H954.52" stroke="rgba(0,0,0,0.7)" stroke-width="2.1" fill="none"/>
<path d="M959.05 695.64H964.85M961.95 695.64V810.42M959.05 810.42H964.85" stroke="rgba(0,0,0,0.7)" stroke-width="2.1" fill="none"/>
<path d="M969.38 710.31H975.18M972.28 710.31V835.44M969.38 835.44H975.18" stroke="rgba(0,0,0,0.7)" stroke-width="2.1" fill="none"/>
<path d="M979.71 705.99H985.51M982.61 705.99V838.03M979.71 838.03H985.51" stroke="rgba(0,0,0,0.7)" stroke-width="2.1" fill="none"/>
<path d="M990.04 684.42H995.84M992.94 684.42V821.64M990.04 821.64H995.84" stroke="rgba(0,0,0,0.7)" stroke-width="2.1" fill="none"/>
<polygon points="187.20,498.10 188.55,501.04 191.77,501.42 189.39,503.61 190.02,506.78 187.20,505.20 184.38,506.78 185.01,503.61 182.63,501.42 185.85,501.04" fill="#222"/>
<polygon points="197.53,498.10 198.88,501.04 202.10,501.42 199.72,503.61 200.35,506.78 197.53,505.20 194.71,506.78 195.34,503.61 192.96,501.42 196.18,501.04" fill="#222"/>
<polygon points="373.14,498.10 374.49,501.04 377.71,501.42 375.33,503.61 375.96,506.78 373.14,505.20 370.32,506.78 370.95,503.61 368.57,501.42 371.79,501.04" fill="#222"/>
<polygon points="383.47,491.75 384.82,494.69 388.04,495.07 385.66,497.26 386.29,500.43 383.47,498.85 380.65,500.43 381.28,497.26 378.90,495.07 382.12,494.69" fill="#222"/>
<polygon points="383.47,504.45 384.82,507.39 388.04,507.77 385.66,509.96 386.29,513.13 383.47,511.55 380.65,513.13 381.28,509.96 378.90,507.77 382.12,507.39" fill="#222"/>
<polygon points="393.80,491.75 395.15,494.69 398.37,495.07 395.99,497.26 396.62,500.43 393.80,498.85 390.98,500.43 391.61,497.26 389.23,495.07 392.45,494.69" fill="#222"/>
<polygon points="393.80,504.45 395.15,507.39 398.37,507.77 395.99,509.96 396.62,513.13 393.80,511.55 390.98,513.13 391.61,509.96 389.23,507.77 392.45,507.39" fill="#222"/>
<polygon points="404.13,491.75 405.48,494.69 408.70,495.07 406.32,497.26 406.95,500.43 404.13,498.85 401.31,500.43 401.94,497.26 399.56,495.07 402.78,494.69" fill="#222"/>
<polygon points="404.13,504.45 405.48,507.39 408.70,507.77 406.32,509.96 406.95,513.13 404.13,511.55 401.31,513.13 401.94,509.96 399.56,507.77 402.78,507.39" fill="#222"/>
<polygon points="414.46,491.75 415.81,494.69 419.03,495.07 416.65,497.26 417.28,500.43 414.46,498.85 411.64,500.43 412.27,497.26 409.89,495.07 413.11,494.69" fill="#222"/>
<polygon points="414.46,504.45 415.81,507.39 419.03,507.77 416.65,509.96 417.28,513.13 414.46,511.55 411.64,513.13 412.27,509.96 409.89,507.77 413.11,507.39" fill="#222"/>
<polygon points="424.79,498.10 426.14,501.04 429.36,501.42 426.98,503.61 427.61,506.78 424.79,505.20 421.97,506.78 422.60,503.61 420.22,501.42 423.44,501.04" fill="#222"/>
<polygon points="497.10,498.10 498.45,501.04 501.67,501.42 499.29,503.61 499.92,506.78 497.10,505.20 494.28,506.78 494.91,503.61 492.53,501.42 495.75,501.04" fill="#222"/>
<polygon points="507.43,498.10 508.78,501.04 512.00,501.42 509.62,503.61 510.25,506.78 507.43,505.20 504.61,506.78 505.24,503.61 502.86,501.42 506.08,501.04" fill="#222"/>
<polygon points="517.76,491.75 519.11,494.69 522.33,495.07 519.95,497.26 520.58,500.43 517.76,498.85 514.94,500.43 515.57,497.26 513.19,495.07 516.41,494.69" fill="#222"/>
<polygon points="517.76,504.45 519.11,507.39 522.33,507.77 519.95,509.96 520.58,513.13 517.76,511.55 514.94,513.13 515.57,509.96 513.19,507.77 516.41,507.39" fill="#222"/>
<polygon points="528.09,491.75 529.44,494.69 532.66,495.07 530.28,497.26 530.91,500.43 528.09,498.85 525.27,500.43 525.90,497.26 523.52,495.07 526.74,494.69" fill="#222"/>
<polygon points="528.09,504.45 529.44,507.39 532.66,507.77 530.28,509.96 530.91,513.13 528.09,511.55 525.27,513.13 525.90,509.96 523.52,507.77 526.74,507.39" fill="#222"/>
<polygon points="538.42,485.65 539.77,488.59 542.99,488.97 540.61,491.16 541.24,494.33 538.42,492.75 535.60,494.33 536.23,491.16 533.85,488.97 537.07,488.59" fill="#222"/>
<polygon points="538.42,498.10 539.77,501.04 542.99,501.42 540.61,503.61 541.24,506.78 538.42,505.20 535.60,506.78 536.23,503.61 533.85,501.42 537.07,501.04" fill="#222"/>
<polygon points="538.42,510.55 539.77,513.49 542.99,513.87 540.61,516.06 541.24,519.23 538.42,517.65 535.60,519.23 536.23,516.06 533.85,513.87 537.07,513.49" fill="#222"/>
<polygon points="548.75,485.65 550.10,488.59 553.32,488.97 550.94,491.16 551.57,494.33 548.75,492.75 545.93,494.33 546.56,491.16 544.18,488.97 547.40,488.59" fill="#222"/>
<polygon points="548.75,498.10 550.10,501.04 553.32,501.42 550.94,503.61 551.57,506.78 548.75,505.20 545.93,506.78 546.56,503.61 544.18,501.42 547.40,501.04" fill="#222"/>
<polygon points="548.75,510.55 550.10,513.49 553.32,513.87 550.94,516.06 551.57,519.23 548.75,517.65 545.93,519.23 546.56,516.06 544.18,513.87 547.40,513.49" fill="#222"/>
<polygon points="559.08,485.65 560.43,488.59 563.65,488.97 561.27,491.16 561.90,494.33 559.08,492.75 556.26,494.33 556.89,491.16 554.51,488.97 557.73,488.59" fill="#222"/>
<polygon points="559.08,498.10 560.43,501.04 563.65,501.42 561.27,503.61 561.90,506.78 559.08,505.20 556.26,506.78 556.89,503.61 554.51,501.42 557.73,501.04" fill="#222"/>
<polygon points="559.08,510.55 560.43,513.49 563.65,513.87 561.27,516.06 561.90,519.23 559.08,517.65 556.26,519.23 556.89,516.06 554.51,513.87 557.73,513.49" fill="#222"/>
<polygon points="569.41,485.65 570.76,488.59 573.98,488.97 571.60,491.16 572.23,494.33 569.41,492.75 566.59,494.33 567.22,491.16 564.84,488.97 568.06,488.59" fill="#222"/>
<polygon points="569.41,498.10 570.76,501.04 573.98,501.42 571.60,503.61 572.23,506.78 569.41,505.20 566.59,506.78 567.22,503.61 564.84,501.42 568.06,501.04" fill="#222"/>
<polygon points="569.41,510.55 570.76,513.49 573.98,513.87 571.60,516.06 572.23,519.23 569.41,517.65 566.59,519.23 567.22,516.06 564.84,513.87 568.06,513.49" fill="#222"/>
<polygon points="579.74,485.65 581.09,488.59 584.31,488.97 581.93,491.16 582.56,494.33 579.74,492.75 576.92,494.33 577.55,491.16 575.17,488.97 578.39,488.59" fill="#222"/>
<polygon points="579.74,498.10 581.09,501.04 584.31,501.42 581.93,503.61 582.56,506.78 579.74,505.20 576.92,506.78 577.55,503.61 575.17,501.42 578.39,501.04" fill="#222"/>
<polygon points="579.74,510.55 581.09,513.49 584.31,513.87 581.93,516.06 582.56,519.23 579.74,517.65 576.92,519.23 577.55,516.06 575.17,513.87 578.39,513.49" fill="#222"/>
<polygon points="590.07,491.75 591.42,494.69 594.64,495.07 592.26,497.26 592.89,500.43 590.07,498.85 587.25,500.43 587.88,497.26 585.50,495.07 588.72,494.69" fill="#222"/>
<polygon points="590.07,504.45 591.42,507.39 594.64,507.77 592.26,509.96 592.89,513.13 590.07,511.55 587.25,513.13 587.88,509.96 585.50,507.77 588.72,507.39" fill="#222"/>
<polygon points="652.05,498.10 653.40,501.04 656.62,501.42 654.24,503.61 654.87,506.78 652.05,505.20 649.23,506.78 649.86,503.61 647.48,501.42 650.70,501.04" fill="#222"/>
<polygon points="662.38,498.10 663.73,501.04 666.95,501.42 664.57,503.61 665.20,506.78 662.38,505.20 659.56,506.78 660.19,503.61 657.81,501.42 661.03,501.04" fill="#222"/>
<polygon points="672.71,498.10 674.06,501.04 677.28,501.42 674.90,503.61 675.53,506.78 672.71,505.20 669.89,506.78 670.52,503.61 668.14,501.42 671.36,501.04" fill="#222"/>
<polygon points="683.04,491.75 684.39,494.69 687.61,495.07 685.23,497.26 685.86,500.43 683.04,498.85 680.22,500.43 680.85,497.26 678.47,495.07 681.69,494.69" fill="#222"/>
<polygon points="683.04,504.45 684.39,507.39 687.61,507.77 685.23,509.96 685.86,513.13 683.04,511.55 680.22,513.13 680.85,509.96 678.47,507.77 681.69,507.39" fill="#222"/>
<polygon points="693.37,491.75 694.72,494.69 697.94,495.07 695.56,497.26 696.19,500.43 693.37,498.85 690.55,500.43 691.18,497.26 688.80,495.07 692.02,494.69" fill="#222"/>
<polygon points="693.37,504.45 694.72,507.39 697.94,507.77 695.56,509.96 696.19,513.13 693.37,511.55 690.55,513.13 691.18,509.96 688.80,507.77 692.02,507.39" fill="#222"/>
<polygon points="703.70,498.10 705.05,501.04 708.27,501.42 705.89,503.61 706.52,506.78 703.70,505.20 700.88,506.78 701.51,503.61 699.13,501.42 702.35,501.04" fill="#222"/>
<polygon points="858.65,491.75 860.00,494.69 863.22,495.07 860.84,497.26 861.47,500.43 858.65,498.85 855.83,500.43 856.46,497.26 854.08,495.07 857.30,494.69" fill="#222"/>
<polygon points="858.65,504.45 860.00,507.39 863.22,507.77 860.84,509.96 861.47,513.13 858.65,511.55 855.83,513.13 856.46,509.96 854.08,507.77 857.30,507.39" fill="#222"/>
<polygon points="868.98,485.65 870.33,488.59 873.55,488.97 871.17,491.16 871.80,494.33 868.98,492.75 866.16,494.33 866.79,491.16 864.41,488.97 867.63,488.59" fill="#222"/>
<polygon points="868.98,498.10 870.33,501.04 873.55,501.42 871.17,503.61 871.80,506.78 868.98,505.20 866.16,506.78 866.79,503.61 864.41,501.42 867.63,501.04" fill="#222"/>
<polygon points="868.98,510.55 870.33,513.49 873.55,513.87 871.17,516.06 871.80,519.23 868.98,517.65 866.16,519.23 866.79,516.06 864.41,513.87 867.63,513.49" fill="#222"/>
<polygon points="879.31,485.65 880.66,488.59 883.88,488.97 881.50,491.16 882.13,494.33 879.31,492.75 876.49,494.33 877.12,491.16 874.74,488.97 877.96,488.59" fill="#222"/>
<polygon points="879.31,498.10 880.66,501.04 883.88,501.42 881.50,503.61 882.13,506.78 879.31,505.20 876.49,506.78 877.12,503.61 874.74,501.42 877.96,501.04" fill="#222"/>
<polygon points="879.31,510.55 880.66,513.49 883.88,513.87 881.50,516.06 882.13,519.23 879.31,517.65 876.49,519.23 877.12,516.06 874.74,513.87 877.96,513.49" fill="#222"/>
<polygon points="889.64,491.75 890.99,494.69 894.21,495.07 891.83,497.26 892.46,500.43 889.64,498.85 886.82,500.43 887.45,497.26 885.07,495.07 888.29,494.69" fill="#222"/>
<polygon points="889.64,504.45 890.99,507.39 894.21,507.77 891.83,509.96 892.46,513.13 889.64,511.55 886.82,513.13 887.45,509.96 885.07,507.77 888.29,507.39" fill="#222"/>
<text transform="translate(24,227.6) rotate(-90)" text-anchor="middle" font-size="16.5" fill="#555" stroke="#555" stroke-width="0.2" font-family="Liberation Sans, sans-serif" textLength="173" lengthAdjust="spacingAndGlyphs">Mean P-A Synchrony</text>
<text transform="translate(42,234) rotate(-90)" text-anchor="middle" font-size="16.5" fill="#555" stroke="#555" stroke-width="0.2" font-family="Liberation Sans, sans-serif" textLength="115" lengthAdjust="spacingAndGlyphs">(Letgo - Strict)</text>
<text transform="translate(24,696.4) rotate(-90)" text-anchor="middle" font-size="16.5" fill="#555" stroke="#555" stroke-width="0.2" font-family="Liberation Sans, sans-serif" textLength="173.5" lengthAdjust="spacingAndGlyphs">Mean A-A Synchrony</text>
<text transform="translate(42,705) rotate(-90)" text-anchor="middle" font-size="16.5" fill="#555" stroke="#555" stroke-width="0.2" font-family="Liberation Sans, sans-serif" textLength="118" lengthAdjust="spacingAndGlyphs">(Letgo - Strict)</text>
<text transform="translate(193.7,953) rotate(-45)" text-anchor="end" font-size="17.5" fill="#555" stroke="#555" stroke-width="0.2" font-family="Liberation Sans, sans-serif" textLength="47.5" lengthAdjust="spacingAndGlyphs">0.495</text>
<text transform="translate(245.3,953) rotate(-45)" text-anchor="end" font-size="17.5" fill="#555" stroke="#555" stroke-width="0.2" font-family="Liberation Sans, sans-serif" textLength="47.5" lengthAdjust="spacingAndGlyphs">0.661</text>
<text transform="translate(297.0,953) rotate(-45)" text-anchor="end" font-size="17.5" fill="#555" stroke="#555" stroke-width="0.2" font-family="Liberation Sans, sans-serif" textLength="47.5" lengthAdjust="spacingAndGlyphs">0.883</text>
<text transform="translate(348.6,953) rotate(-45)" text-anchor="end" font-size="17.5" fill="#555" stroke="#555" stroke-width="0.2" font-family="Liberation Sans, sans-serif" textLength="47.5" lengthAdjust="spacingAndGlyphs">1.178</text>
<text transform="translate(400.3,953) rotate(-45)" text-anchor="end" font-size="17.5" fill="#555" stroke="#555" stroke-width="0.2" font-family="Liberation Sans, sans-serif" textLength="47.5" lengthAdjust="spacingAndGlyphs">1.572</text>
<text transform="translate(451.9,953) rotate(-45)" text-anchor="end" font-size="17.5" fill="#555" stroke="#555" stroke-width="0.2" font-family="Liberation Sans, sans-serif" textLength="47.5" lengthAdjust="spacingAndGlyphs">2.099</text>
<text transform="translate(503.6,953) rotate(-45)" text-anchor="end" font-size="17.5" fill="#555" stroke="#555" stroke-width="0.2" font-family="Liberation Sans, sans-serif" textLength="47.5" lengthAdjust="spacingAndGlyphs">2.802</text>
<text transform="translate(555.2,953) rotate(-45)" text-anchor="end" font-size="17.5" fill="#555" stroke="#555" stroke-width="0.2" font-family="Liberation Sans, sans-serif" textLength="37.0" lengthAdjust="spacingAndGlyphs">3.74</text>
<text transform="translate(606.9,953) rotate(-45)" text-anchor="end" font-size="17.5" fill="#555" stroke="#555" stroke-width="0.2" font-family="Liberation Sans, sans-serif" textLength="47.5" lengthAdjust="spacingAndGlyphs">4.992</text>
<text transform="translate(658.5,953) rotate(-45)" text-anchor="end" font-size="17.5" fill="#555" stroke="#555" stroke-width="0.2" font-family="Liberation Sans, sans-serif" textLength="47.5" lengthAdjust="spacingAndGlyphs">6.664</text>
<text transform="translate(710.2,953) rotate(-45)" text-anchor="end" font-size="17.5" fill="#555" stroke="#555" stroke-width="0.2" font-family="Liberation Sans, sans-serif" textLength="47.5" lengthAdjust="spacingAndGlyphs">8.895</text>
<text transform="translate(761.8,953) rotate(-45)" text-anchor="end" font-size="17.5" fill="#555" stroke="#555" stroke-width="0.2" font-family="Liberation Sans, sans-serif" textLength="58.1" lengthAdjust="spacingAndGlyphs">11.874</text>
<text transform="translate(813.5,953) rotate(-45)" text-anchor="end" font-size="17.5" fill="#555" stroke="#555" stroke-width="0.2" font-family="Liberation Sans, sans-serif" textLength="47.5" lengthAdjust="spacingAndGlyphs">15.85</text>
<text transform="translate(865.2,953) rotate(-45)" text-anchor="end" font-size="17.5" fill="#555" stroke="#555" stroke-width="0.2" font-family="Liberation Sans, sans-serif" textLength="58.1" lengthAdjust="spacingAndGlyphs">21.157</text>
<text transform="translate(916.8,953) rotate(-45)" text-anchor="end" font-size="17.5" fill="#555" stroke="#555" stroke-width="0.2" font-family="Liberation Sans, sans-serif" textLength="58.1" lengthAdjust="spacingAndGlyphs">28.241</text>
<text transform="translate(968.5,953) rotate(-45)" text-anchor="end" font-size="17.5" fill="#555" stroke="#555" stroke-width="0.2" font-family="Liberation Sans, sans-serif" textLength="58.1" lengthAdjust="spacingAndGlyphs">37.697</text>
<text x="570.8" y="1012.4" text-anchor="middle" font-size="16.5" fill="#555" stroke="#555" stroke-width="0.35" font-family="Liberation Sans, sans-serif" textLength="51" lengthAdjust="spacingAndGlyphs">Period</text>
<rect x="119.5" y="68.5" width="338" height="275" fill="#fff"/>
<rect x="171" y="72.5" width="282" height="251.5" fill="#fff" stroke="#555" stroke-width="2.2"/>
<path d="M183.40 149.50C185.52 155.13 191.40 180.48 196.10 183.30C200.80 186.12 206.43 167.70 211.60 166.40C216.77 165.10 221.23 178.68 227.10 175.50C232.97 172.32 241.40 149.88 246.80 147.30C252.20 144.72 254.45 162.03 259.50 160.00C264.55 157.97 271.33 132.00 277.10 135.10C282.87 138.20 288.45 182.18 294.10 178.60C299.75 175.02 305.52 112.25 311.00 113.60C316.48 114.95 322.08 179.13 327.00 186.70C331.92 194.27 336.33 162.53 340.50 159.00C344.67 155.47 348.25 166.83 352.00 165.50C355.75 164.17 359.33 153.42 363.00 151.00C366.67 148.58 370.50 150.75 374.00 151.00C377.50 151.25 380.78 145.83 384.00 152.50C387.22 159.17 388.90 194.33 393.30 191.00C397.70 187.67 405.12 139.32 410.40 132.50C415.68 125.68 420.10 139.32 425.00 150.10C429.90 160.88 437.33 189.35 439.80 197.20L439.80 241.20C437.33 232.68 429.90 202.22 425.00 190.10C420.10 177.98 415.68 166.35 410.40 168.50C405.12 170.65 397.70 203.67 393.30 203.00C388.90 202.33 387.22 171.17 384.00 164.50C380.78 157.83 377.50 163.25 374.00 163.00C370.50 162.75 366.67 160.58 363.00 163.00C359.33 165.42 355.75 176.50 352.00 177.50C348.25 178.50 344.67 166.47 340.50 169.00C336.33 171.53 331.92 201.10 327.00 192.70C322.08 184.30 316.48 120.28 311.00 118.60C305.52 116.92 299.75 179.25 294.10 182.60C288.45 185.95 282.87 141.97 277.10 138.70C271.33 135.43 264.55 161.07 259.50 163.00C254.45 164.93 252.20 147.72 246.80 150.30C241.40 152.88 232.97 175.32 227.10 178.50C221.23 181.68 216.77 168.10 211.60 169.40C206.43 170.70 200.80 189.12 196.10 186.30C191.40 183.48 185.52 158.13 183.40 152.50Z" fill="#F8766D" fill-opacity="0.3" stroke="none"/>
<path d="M183.40 141.00C185.40 146.40 190.82 171.52 195.40 173.40C199.98 175.28 205.85 153.23 210.90 152.30C215.95 151.37 219.83 171.10 225.70 167.80C231.57 164.50 240.35 134.38 246.10 132.50C251.85 130.62 254.90 159.60 260.20 156.50C265.50 153.40 272.25 110.22 277.90 113.90C283.55 117.58 288.58 182.93 294.10 178.60C299.62 174.27 304.90 85.52 311.00 87.90C317.10 90.28 323.53 187.97 330.70 192.90C337.87 197.83 347.67 118.37 354.00 117.50C360.33 116.63 364.82 177.43 368.70 187.70C372.58 197.97 373.42 174.68 377.30 179.10C381.18 183.52 388.33 209.78 392.00 214.20C395.67 218.62 395.02 192.00 399.30 205.60C403.58 219.20 412.58 286.10 417.70 295.80C422.82 305.50 426.32 268.07 430.00 263.80C433.68 259.53 438.17 269.13 439.80 270.20L439.80 298.20C438.17 296.80 433.68 287.53 430.00 289.80C426.32 292.07 422.82 324.17 417.70 311.80C412.58 299.43 403.58 230.20 399.30 215.60C395.02 201.00 395.67 228.78 392.00 224.20C388.33 219.62 381.18 192.68 377.30 188.10C373.42 183.52 372.58 207.30 368.70 196.70C364.82 186.10 360.33 124.13 354.00 124.50C347.67 124.87 337.87 204.17 330.70 198.90C323.53 193.63 317.10 95.62 311.00 92.90C304.90 90.18 299.62 178.50 294.10 182.60C288.58 186.70 283.55 121.35 277.90 117.50C272.25 113.65 265.50 156.50 260.20 159.50C254.90 162.50 251.85 133.62 246.10 135.50C240.35 137.38 231.57 167.50 225.70 170.80C219.83 174.10 215.95 154.37 210.90 155.30C205.85 156.23 199.98 178.28 195.40 176.40C190.82 174.52 185.40 149.40 183.40 144.00Z" fill="#00BFC4" fill-opacity="0.3" stroke="none"/>
<path d="M183.40 151.00C185.52 156.63 191.40 181.98 196.10 184.80C200.80 187.62 206.43 169.20 211.60 167.90C216.77 166.60 221.23 180.18 227.10 177.00C232.97 173.82 241.40 151.38 246.80 148.80C252.20 146.22 254.45 163.48 259.50 161.50C264.55 159.52 271.33 133.72 277.10 136.90C282.87 140.08 288.45 184.07 294.10 180.60C299.75 177.13 305.52 114.58 311.00 116.10C316.48 117.62 322.08 181.72 327.00 189.70C331.92 197.68 336.33 167.03 340.50 164.00C344.67 160.97 348.25 172.67 352.00 171.50C355.75 170.33 359.33 159.42 363.00 157.00C366.67 154.58 370.50 156.75 374.00 157.00C377.50 157.25 380.78 151.83 384.00 158.50C387.22 165.17 388.90 198.33 393.30 197.00C397.70 195.67 405.12 154.98 410.40 150.50C415.68 146.02 420.10 158.65 425.00 170.10C429.90 181.55 437.33 211.02 439.80 219.20" fill="none" stroke="#F8766D" stroke-width="2.2" stroke-linejoin="round"/>
<path d="M183.40 142.50C185.40 147.90 190.82 173.02 195.40 174.90C199.98 176.78 205.85 154.73 210.90 153.80C215.95 152.87 219.83 172.60 225.70 169.30C231.57 166.00 240.35 135.88 246.10 134.00C251.85 132.12 254.90 161.05 260.20 158.00C265.50 154.95 272.25 111.93 277.90 115.70C283.55 119.47 288.58 184.82 294.10 180.60C299.62 176.38 304.90 87.85 311.00 90.40C317.10 92.95 323.53 190.80 330.70 195.90C337.87 201.00 347.67 121.62 354.00 121.00C360.33 120.38 364.82 181.77 368.70 192.20C372.58 202.63 373.42 179.10 377.30 183.60C381.18 188.10 388.33 214.70 392.00 219.20C395.67 223.70 395.02 196.50 399.30 210.60C403.58 224.70 412.58 292.77 417.70 303.80C422.82 314.83 426.32 280.07 430.00 276.80C433.68 273.53 438.17 282.97 439.80 284.20" fill="none" stroke="#00BFC4" stroke-width="2.2" stroke-linejoin="round"/>
<line x1="167" x2="171" y1="144.2" y2="144.2" stroke="#555" stroke-width="1.2"/>
<text x="164.5" y="147.39999999999998" text-anchor="end" font-size="9.5" fill="#999" stroke="#999" stroke-width="0.15" font-family="Liberation Sans, sans-serif" textLength="22" lengthAdjust="spacingAndGlyphs">0.30</text>
<line x1="167" x2="171" y1="220.3" y2="220.3" stroke="#555" stroke-width="1.2"/>
<text x="164.5" y="223.5" text-anchor="end" font-size="9.5" fill="#999" stroke="#999" stroke-width="0.15" font-family="Liberation Sans, sans-serif" textLength="22" lengthAdjust="spacingAndGlyphs">0.25</text>
<line x1="167" x2="171" y1="296.5" y2="296.5" stroke="#555" stroke-width="1.2"/>
<text x="164.5" y="299.7" text-anchor="end" font-size="9.5" fill="#999" stroke="#999" stroke-width="0.15" font-family="Liberation Sans, sans-serif" textLength="22" lengthAdjust="spacingAndGlyphs">0.20</text>
<line x1="202" x2="202" y1="323.5" y2="327.5" stroke="#555" stroke-width="1.2"/>
<text x="202" y="336.5" text-anchor="middle" font-size="9.5" fill="#888" stroke="#888" stroke-width="0.2" font-family="Liberation Sans, sans-serif">0.3</text>
<line x1="258.8" x2="258.8" y1="323.5" y2="327.5" stroke="#555" stroke-width="1.2"/>
<text x="258.8" y="336.5" text-anchor="middle" font-size="9.5" fill="#888" stroke="#888" stroke-width="0.2" font-family="Liberation Sans, sans-serif">1.0</text>
<line x1="311" x2="311" y1="323.5" y2="327.5" stroke="#555" stroke-width="1.2"/>
<text x="311" y="336.5" text-anchor="middle" font-size="9.5" fill="#888" stroke="#888" stroke-width="0.2" font-family="Liberation Sans, sans-serif">3.0</text>
<line x1="368" x2="368" y1="323.5" y2="327.5" stroke="#555" stroke-width="1.2"/>
<text x="368" y="336.5" text-anchor="middle" font-size="9.5" fill="#888" stroke="#888" stroke-width="0.2" font-family="Liberation Sans, sans-serif">10.0</text>
<line x1="420.6" x2="420.6" y1="323.5" y2="327.5" stroke="#555" stroke-width="1.2"/>
<text x="420.6" y="336.5" text-anchor="middle" font-size="9.5" fill="#888" stroke="#888" stroke-width="0.2" font-family="Liberation Sans, sans-serif">30.0</text>
<text transform="translate(134.5,214) rotate(-90)" text-anchor="middle" font-size="14" fill="#444" stroke="#444" stroke-width="0.5" font-family="Liberation Sans, sans-serif">WTC <tspan font-style="italic">R</tspan><tspan dy="-5" font-size="8">2</tspan></text>
<text x="192.1" y="265.7" font-size="13.5" fill="#444" stroke="#444" stroke-width="0.45" font-family="Liberation Sans, sans-serif" textLength="113.8" lengthAdjust="spacingAndGlyphs">PerformanceMode</text>
<rect x="192.1" y="276.2" width="10.5" height="9.2" fill="#F8766D" fill-opacity="0.3"/><line x1="192.1" x2="202.6" y1="280.8" y2="280.8" stroke="#F8766D" stroke-width="2"/>
<rect x="192.1" y="288" width="10.5" height="9.2" fill="#00BFC4" fill-opacity="0.3"/><line x1="192.1" x2="202.6" y1="292.6" y2="292.6" stroke="#00BFC4" stroke-width="2"/>
<text x="210" y="284.5" font-size="10" fill="#333" stroke="#333" stroke-width="0.35" font-family="Liberation Sans, sans-serif" textLength="29" lengthAdjust="spacingAndGlyphs">LetGo</text>
<text x="210.5" y="296.3" font-size="10" fill="#333" stroke="#333" stroke-width="0.35" font-family="Liberation Sans, sans-serif" textLength="24.5" lengthAdjust="spacingAndGlyphs">Strict</text>
<rect x="126" y="511" width="334" height="268" fill="#fff"/>
<rect x="170.3" y="518" width="288.4" height="250.5" fill="#fff" stroke="#555" stroke-width="2.2"/>
<path d="M170.90 599.50C172.00 600.33 173.38 592.17 177.50 604.50C181.62 616.83 190.67 664.45 195.60 673.50C200.53 682.55 202.98 660.17 207.10 658.80C211.22 657.43 215.37 668.60 220.30 665.30C225.23 662.00 230.95 636.80 236.70 639.00C242.45 641.20 248.50 684.80 254.80 678.50C261.10 672.20 268.30 598.20 274.50 601.20C280.70 604.20 285.68 703.90 292.00 696.50C298.32 689.10 305.48 553.80 312.40 556.80C319.32 559.80 327.23 692.05 333.50 714.50C339.77 736.95 343.58 695.58 350.00 691.50C356.42 687.42 364.78 684.50 372.00 690.00C379.22 695.50 386.13 724.92 393.30 724.50C400.47 724.08 409.47 689.92 415.00 687.50C420.53 685.08 420.27 728.25 426.50 710.00C432.73 691.75 448.08 600.00 452.40 578.00L452.40 594.00C448.08 614.67 432.73 701.42 426.50 718.00C420.27 734.58 420.53 691.42 415.00 693.50C409.47 695.58 400.47 730.08 393.30 730.50C386.13 730.92 379.22 701.67 372.00 696.00C364.78 690.33 356.42 692.58 350.00 696.50C343.58 700.42 339.77 741.95 333.50 719.50C327.23 697.05 319.32 564.80 312.40 561.80C305.48 558.80 298.32 694.10 292.00 701.50C285.68 708.90 280.70 609.20 274.50 606.20C268.30 603.20 261.10 677.20 254.80 683.50C248.50 689.80 242.45 646.20 236.70 644.00C230.95 641.80 225.23 667.00 220.30 670.30C215.37 673.60 211.22 662.43 207.10 663.80C202.98 665.17 200.53 687.55 195.60 678.50C190.67 669.45 181.62 621.83 177.50 609.50C173.38 597.17 172.00 605.33 170.90 604.50Z" fill="#F8766D" fill-opacity="0.3" stroke="none"/>
<path d="M170.90 593.00C172.00 593.82 173.38 584.48 177.50 597.90C181.62 611.32 190.67 663.63 195.60 673.50C200.53 683.37 202.98 659.02 207.10 657.10C211.22 655.18 215.37 665.28 220.30 662.00C225.23 658.72 230.95 634.65 236.70 637.40C242.45 640.15 248.50 687.00 254.80 678.50C261.10 670.00 268.30 583.67 274.50 586.40C280.70 589.13 285.55 704.38 292.00 694.90C298.45 685.42 305.70 526.82 313.20 529.50C320.70 532.18 328.45 689.67 337.00 711.00C345.55 732.33 355.12 653.57 364.50 657.50C373.88 661.43 386.75 724.58 393.30 734.60C399.85 744.62 399.35 715.78 403.80 717.60C408.25 719.42 411.90 765.27 420.00 745.50C428.10 725.73 447.00 623.42 452.40 599.00L452.40 607.00C447.00 631.92 428.10 737.07 420.00 756.50C411.90 775.93 408.25 726.25 403.80 723.60C399.35 720.95 399.85 750.78 393.30 740.60C386.75 730.42 373.88 666.60 364.50 662.50C355.12 658.40 345.55 737.33 337.00 716.00C328.45 694.67 320.70 537.18 313.20 534.50C305.70 531.82 298.45 690.42 292.00 699.90C285.55 709.38 280.70 594.13 274.50 591.40C268.30 588.67 261.10 675.00 254.80 683.50C248.50 692.00 242.45 645.15 236.70 642.40C230.95 639.65 225.23 663.72 220.30 667.00C215.37 670.28 211.22 660.18 207.10 662.10C202.98 664.02 200.53 688.37 195.60 678.50C190.67 668.63 181.62 616.32 177.50 602.90C173.38 589.48 172.00 598.82 170.90 598.00Z" fill="#00BFC4" fill-opacity="0.3" stroke="none"/>
<path d="M170.90 602.00C172.00 602.83 173.38 594.67 177.50 607.00C181.62 619.33 190.67 666.95 195.60 676.00C200.53 685.05 202.98 662.67 207.10 661.30C211.22 659.93 215.37 671.10 220.30 667.80C225.23 664.50 230.95 639.30 236.70 641.50C242.45 643.70 248.50 687.30 254.80 681.00C261.10 674.70 268.30 600.70 274.50 603.70C280.70 606.70 285.68 706.40 292.00 699.00C298.32 691.60 305.48 556.30 312.40 559.30C319.32 562.30 327.23 694.55 333.50 717.00C339.77 739.45 343.58 698.00 350.00 694.00C356.42 690.00 364.78 687.42 372.00 693.00C379.22 698.58 386.13 727.92 393.30 727.50C400.47 727.08 409.47 692.75 415.00 690.50C420.53 688.25 420.27 731.42 426.50 714.00C432.73 696.58 448.08 607.33 452.40 586.00" fill="none" stroke="#F8766D" stroke-width="2.4" stroke-linejoin="round"/>
<path d="M170.90 595.50C172.00 596.32 173.38 586.98 177.50 600.40C181.62 613.82 190.67 666.13 195.60 676.00C200.53 685.87 202.98 661.52 207.10 659.60C211.22 657.68 215.37 667.78 220.30 664.50C225.23 661.22 230.95 637.15 236.70 639.90C242.45 642.65 248.50 689.50 254.80 681.00C261.10 672.50 268.30 586.17 274.50 588.90C280.70 591.63 285.55 706.88 292.00 697.40C298.45 687.92 305.70 529.32 313.20 532.00C320.70 534.68 328.45 692.17 337.00 713.50C345.55 734.83 355.12 655.98 364.50 660.00C373.88 664.02 386.75 727.50 393.30 737.60C399.85 747.70 399.35 718.37 403.80 720.60C408.25 722.83 411.90 770.60 420.00 751.00C428.10 731.40 447.00 627.67 452.40 603.00" fill="none" stroke="#00BFC4" stroke-width="2.6" stroke-linejoin="round"/>
<line x1="166.3" x2="170.3" y1="565.2" y2="565.2" stroke="#555" stroke-width="1.2"/>
<text x="163.5" y="568.9000000000001" text-anchor="end" font-size="10.5" fill="#555" stroke="#555" stroke-width="0.4" font-family="Liberation Sans, sans-serif" textLength="24" lengthAdjust="spacingAndGlyphs">0.35</text>
<line x1="166.3" x2="170.3" y1="658.9" y2="658.9" stroke="#555" stroke-width="1.2"/>
<text x="163.5" y="662.6" text-anchor="end" font-size="10.5" fill="#555" stroke="#555" stroke-width="0.4" font-family="Liberation Sans, sans-serif" textLength="24" lengthAdjust="spacingAndGlyphs">0.30</text>
<line x1="166.3" x2="170.3" y1="752.4" y2="752.4" stroke="#555" stroke-width="1.2"/>
<text x="163.5" y="756.1" text-anchor="end" font-size="10.5" fill="#555" stroke="#555" stroke-width="0.4" font-family="Liberation Sans, sans-serif" textLength="24" lengthAdjust="spacingAndGlyphs">0.25</text>
<line x1="192.5" x2="192.5" y1="768.5" y2="772.5" stroke="#555" stroke-width="1.2"/>
<line x1="254.5" x2="254.5" y1="768.5" y2="772.5" stroke="#555" stroke-width="1.2"/>
<line x1="311.6" x2="311.6" y1="768.5" y2="772.5" stroke="#555" stroke-width="1.2"/>
<line x1="368.3" x2="368.3" y1="768.5" y2="772.5" stroke="#555" stroke-width="1.2"/>
<line x1="430.8" x2="430.8" y1="768.5" y2="772.5" stroke="#555" stroke-width="1.2"/>
<text transform="translate(130,665) rotate(-90)" text-anchor="middle" font-size="11" fill="#333" stroke="#333" stroke-width="0.6" font-family="Liberation Sans, sans-serif">WCT <tspan font-style="italic">R</tspan><tspan dy="-4" font-size="6">2</tspan></text>
<rect x="198.9" y="715.8" width="11.5" height="9.4" fill="#F8766D" fill-opacity="0.3"/><line x1="198.9" x2="210.4" y1="720.5" y2="720.5" stroke="#F8766D" stroke-width="2.2"/>
<rect x="198.9" y="727.3" width="11.5" height="9.4" fill="#00BFC4" fill-opacity="0.3"/><line x1="198.9" x2="210.4" y1="732" y2="732" stroke="#00BFC4" stroke-width="2.2"/>
<text x="217" y="724" font-size="9.5" fill="#444" stroke="#444" stroke-width="0.3" font-family="Liberation Sans, sans-serif" textLength="31" lengthAdjust="spacingAndGlyphs">LetGo</text>
<text x="217" y="735.5" font-size="9.5" fill="#444" stroke="#444" stroke-width="0.3" font-family="Liberation Sans, sans-serif" textLength="26" lengthAdjust="spacingAndGlyphs">Strict</text>
</g></svg></body></html>
